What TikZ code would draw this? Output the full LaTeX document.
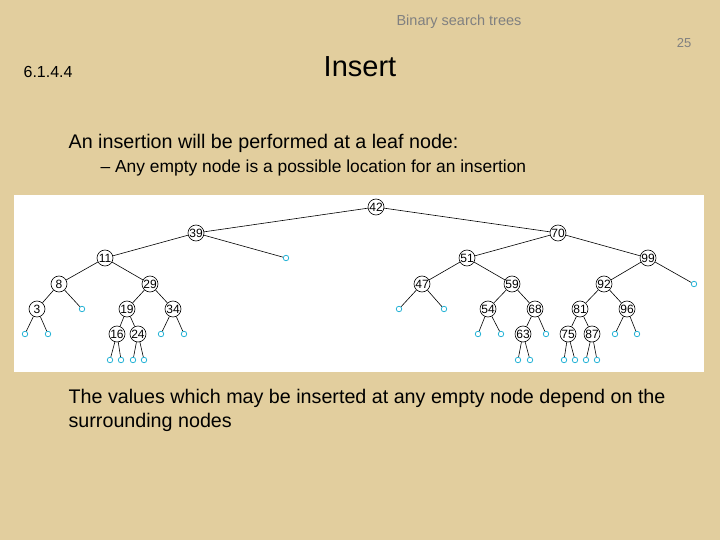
\documentclass[tikz,border=0pt]{standalone}
\usepackage{fontspec}
\setmainfont{Liberation Sans}
\usepackage{xcolor}
\definecolor{parch}{RGB}{226,206,158}
\definecolor{leafblue}{RGB}{40,180,215}
\tikzset{
  key/.style={circle, draw, inner sep=0pt, minimum size=16pt, font=\fontsize{12}{12}\selectfont},
  empty/.style={circle, draw=leafblue, thick, inner sep=0pt, minimum size=5.5pt},
}
\begin{document}
\begin{tikzpicture}[x=1pt, y=-1pt, semithick]
      \fill[parch] (0,0) rectangle (720,540);
      \useasboundingbox (0,0) rectangle (720,540);
      \fill[white] (14,195) rectangle (704,372);
      \node[gray, font=\fontsize{14.5}{14.5}\selectfont] (title) at (459,22) {Binary search trees};
      \node[gray, font=\fontsize{13}{13}\selectfont] (page) at (684,43) {25};
      \node[anchor=west, font=\fontsize{16}{16}\selectfont] (sec) at (20,72) {6.1.4.4};
      \node[font=\fontsize{29}{29}\selectfont] (head) at (360,67) {Insert};
      \node[anchor=west, font=\fontsize{19.7}{19.7}\selectfont] (l1) at (65,143) {An insertion will be performed at a leaf node:};
      \node[anchor=west, font=\fontsize{17.4}{17.4}\selectfont] (l2) at (97,168) {– Any empty node is a possible location for an insertion};
      \node[anchor=west, font=\fontsize{19.7}{19.7}\selectfont] (l3) at (65,398) {The values which may be inserted at any empty node depend on the};
      \node[anchor=west, font=\fontsize{19.7}{19.7}\selectfont] (l4) at (65,422) {surrounding nodes};
      % keys
      \node[key] (n42) at (376,207) {42};
      \node[key] (n39) at (196,233) {39};
      \node[key] (n11) at (105,258) {11};
      \node[key] (n8) at (59,284) {8};
      \node[key] (n29) at (150,284) {29};
      \node[key] (n3) at (37,309) {3};
      \node[key] (n19) at (127,309) {19};
      \node[key] (n34) at (173,309) {34};
      \node[key] (n16) at (117,334) {16};
      \node[key] (n24) at (138,334) {24};
      \node[key] (n70) at (558,233) {70};
      \node[key] (n51) at (467,258) {51};
      \node[key] (n99) at (648,258) {99};
      \node[key] (n47) at (422,284) {47};
      \node[key] (n59) at (512,284) {59};
      \node[key] (n92) at (604,284) {92};
      \node[key] (n54) at (488,309) {54};
      \node[key] (n68) at (535,309) {68};
      \node[key] (n81) at (580,309) {81};
      \node[key] (n96) at (627,309) {96};
      \node[key] (n63) at (523,334) {63};
      \node[key] (n75) at (568,334) {75};
      \node[key] (n87) at (592,334) {87};
      % empty spots
      \node[empty] (e39) at (286,258) {};
      \node[empty] (e8) at (82,309) {};
      \node[empty] (e3a) at (25,334) {};
      \node[empty] (e3b) at (48,334) {};
      \node[empty] (e34a) at (161,334) {};
      \node[empty] (e34b) at (184,334) {};
      \node[empty] (e16a) at (110,360) {};
      \node[empty] (e16b) at (121,360) {};
      \node[empty] (e24a) at (133,360) {};
      \node[empty] (e24b) at (144,360) {};
      \node[empty] (e99) at (694,284) {};
      \node[empty] (e47a) at (399,309) {};
      \node[empty] (e47b) at (444,309) {};
      \node[empty] (e54a) at (478,334) {};
      \node[empty] (e54b) at (501,334) {};
      \node[empty] (e68) at (546,334) {};
      \node[empty] (e96a) at (615,334) {};
      \node[empty] (e96b) at (637,334) {};
      \node[empty] (e63a) at (518,360) {};
      \node[empty] (e63b) at (530,360) {};
      \node[empty] (e75a) at (564,360) {};
      \node[empty] (e75b) at (575,360) {};
      \node[empty] (e87a) at (586,360) {};
      \node[empty] (e87b) at (597,360) {};
      % edges
      \draw (n42) -- (n39);
      \draw (n42) -- (n70);
      \draw (n39) -- (n11);
      \draw (n39) -- (e39);
      \draw (n11) -- (n8);
      \draw (n11) -- (n29);
      \draw (n8) -- (n3);
      \draw (n8) -- (e8);
      \draw (n3) -- (e3a);
      \draw (n3) -- (e3b);
      \draw (n29) -- (n19);
      \draw (n29) -- (n34);
      \draw (n34) -- (e34a);
      \draw (n34) -- (e34b);
      \draw (n19) -- (n16);
      \draw (n19) -- (n24);
      \draw (n16) -- (e16a);
      \draw (n16) -- (e16b);
      \draw (n24) -- (e24a);
      \draw (n24) -- (e24b);
      \draw (n70) -- (n51);
      \draw (n70) -- (n99);
      \draw (n51) -- (n47);
      \draw (n51) -- (n59);
      \draw (n47) -- (e47a);
      \draw (n47) -- (e47b);
      \draw (n59) -- (n54);
      \draw (n59) -- (n68);
      \draw (n54) -- (e54a);
      \draw (n54) -- (e54b);
      \draw (n68) -- (n63);
      \draw (n68) -- (e68);
      \draw (n63) -- (e63a);
      \draw (n63) -- (e63b);
      \draw (n99) -- (n92);
      \draw (n99) -- (e99);
      \draw (n92) -- (n81);
      \draw (n92) -- (n96);
      \draw (n81) -- (n75);
      \draw (n81) -- (n87);
      \draw (n75) -- (e75a);
      \draw (n75) -- (e75b);
      \draw (n87) -- (e87a);
      \draw (n87) -- (e87b);
      \draw (n96) -- (e96a);
      \draw (n96) -- (e96b);
    \end{tikzpicture}
\end{document}
